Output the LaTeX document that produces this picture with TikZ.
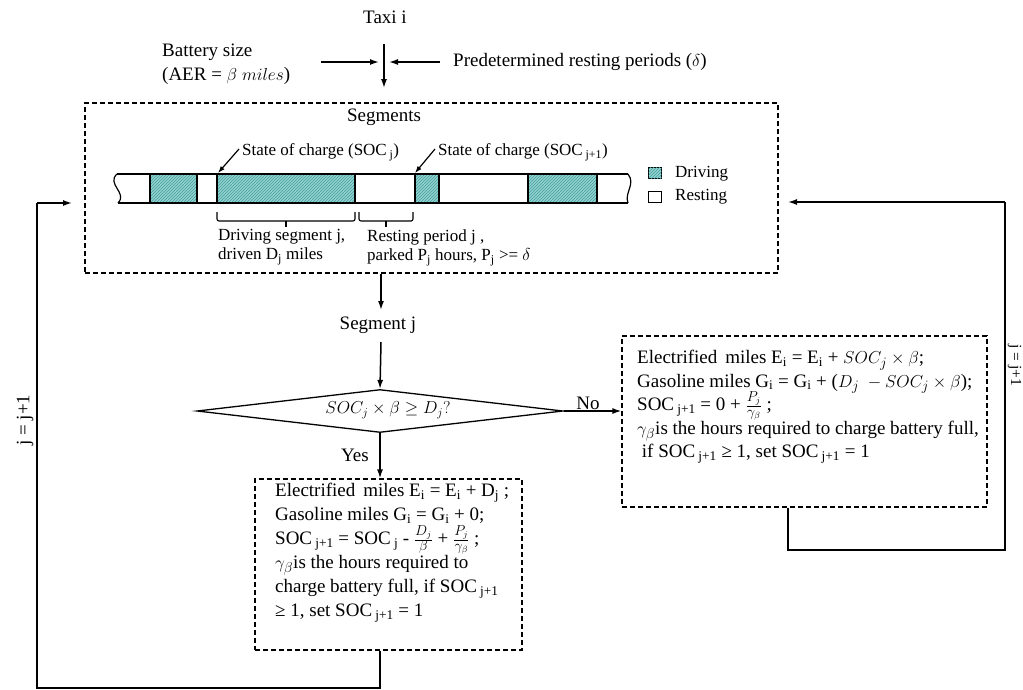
\documentclass[tikz,border=0pt]{standalone}
\usepackage{fontspec}
\setmainfont{Liberation Serif}
\usetikzlibrary{arrows.meta,shapes.geometric,patterns}
\definecolor{drvfill}{RGB}{145,210,206}
\definecolor{drvline}{RGB}{70,160,158}
\newcommand{\sbs}[1]{\textsubscript{#1}}
\begin{document}
\begin{tikzpicture}[x=1pt,y=-1pt,
  txt/.style={font=\fontsize{19}{24}\selectfont, inner sep=0pt},
  txtn/.style={font=\fontsize{19}{23.5}\selectfont, inner sep=0pt},
  small/.style={font=\fontsize{17}{19.5}\selectfont, inner sep=0pt},
  tiny/.style={font=\fontsize{15.5}{18}\selectfont, inner sep=0pt},
  dbox/.style={draw, dash pattern=on 5pt off 3pt, line width=1.2pt, inner sep=0pt},
  arr/.style={-{Latex[length=9pt,width=6pt]}, line width=1.5pt},
  loopline/.style={line width=2pt},
  barline/.style={line width=1.2pt},
  thickbar/.style={line width=2.4pt},
  drv/.style={fill=drvfill, postaction={pattern=north east lines, pattern color=drvline}},
]
\useasboundingbox (0,0) rectangle (1023,689);

% ---------- top inputs ----------
\node[txt] (taxi) at (385,17) {Taxi i};
\node[txt, anchor=west, align=left] (battery) at (162,64) {Battery size\\(AER = $\beta\ miles$)};
\node[txt, anchor=west] (pred) at (453,62) {Predetermined resting periods ($\delta$)};
\coordinate (vtop) at (384,44);
\coordinate (vbot) at (384,88);
\coordinate (lstart) at (321,62);
\coordinate (lend) at (379,62);
\coordinate (rend) at (389,62);
\draw[arr] (vtop) -- (vbot);
\draw[arr] (lstart) -- (lend);
\draw[arr] ([xshift=-13pt]pred.west) -- (rend);

% ---------- segments box ----------
\node[dbox, minimum width=693pt, minimum height=170pt] (segbox) at (431.5,188) {};
\node[txt] (segtitle) at (384,117) {Segments};

% bar
\fill[drv] (150,174) rectangle (197,203);
\fill[drv] (217,174) rectangle (355,203);
\fill[drv] (415,174) rectangle (439,203);
\fill[drv] (528,174) rectangle (597,203);
\draw[barline] (117,174) -- (628,174);
\draw[barline] (118,203) -- (628,203);
\draw[barline] (117,174) .. controls (106,184) and (128,193) .. (118,203);
\draw[barline] (628,174) .. controls (636,184) and (624,193) .. (628,203);
\foreach \x in {150,197,217,415,528} \draw[barline] (\x,174) -- (\x,203);
\foreach \x in {355,439,597} \draw[thickbar] (\x,174) -- (\x,203);

% SOC labels
\node[small, anchor=west] (socj) at (242,152) {State of charge (SOC\,\sbs{j})};
\node[small, anchor=west] (socj1) at (438,152) {State of charge (SOC\,\sbs{j+1})};
\coordinate (socjtip) at (218,173);
\coordinate (socj1tip) at (415,173);
\draw[-{Latex[length=7pt,width=5pt]}, line width=1.2pt] ([xshift=-3pt,yshift=3pt]socj.west) -- (socjtip);
\draw[-{Latex[length=7pt,width=5pt]}, line width=1.2pt] ([xshift=-3pt,yshift=3pt]socj1.west) -- (socj1tip);

% braces
\draw[line width=1.1pt, rounded corners=2pt] (217,212) |- (355,221) -- (355,212);
\draw[line width=1.1pt] (286,221) -- (286,227);
\draw[line width=1.1pt, rounded corners=2pt] (359,212) |- (413,221) -- (413,212);
\draw[line width=1.1pt] (386,221) -- (386,227);
\node[small, anchor=north west, align=left] (drvlab) at (218,229) {Driving segment j,\\driven D\sbs{j} miles};
\node[small, anchor=north west, align=left] (reslab) at (367,229) {Resting period j ,\\parked P\sbs{j} hours, P\sbs{j} >= $\delta$};

% legend
\node[draw, barline, fill=drvfill, postaction={pattern=north east lines, pattern color=drvline}, minimum width=13pt, minimum height=11pt, inner sep=0pt] (legd) at (655,173) {};
\node[draw, barline, minimum width=13pt, minimum height=11pt, inner sep=0pt] (legr) at (655,197) {};
\node[small, anchor=west] (legdt) at (675,174) {Driving};
\node[small, anchor=west] (legrt) at (675,197) {Resting};

% ---------- flow ----------
\node[txt] (segj) at (378,325) {Segment j};
\coordinate (segjin) at (381,310);
\draw[arr] (segbox.south -| segjin) -- (segjin);
\node[draw, line width=1.3pt, diamond, minimum width=366pt, minimum height=43pt, inner sep=0pt] (dia) at (380,411) {};
\node[small] (diatext) at (388,410) {$SOC_j \times \beta \geq D_j?$};
\coordinate (segjout) at (381,342);
\draw[arr] (segjout) -- (dia.north);

% yes box
\node[dbox, minimum width=267pt, minimum height=171pt] (yesbox) at (388.5,564.5) {};
\node[txt, anchor=north west, align=left] (yestext) at (275,483) {Electrified\, miles E\sbs{i} = E\sbs{i} + D\sbs{j} ;\\
Gasoline miles G\sbs{i} = G\sbs{i} + 0;\\
SOC\,\sbs{j+1} = SOC\,\sbs{j} - \smash{$\frac{D_j}{\beta}$} + \smash{$\frac{P_j}{\gamma_\beta}$} ;\\
$\gamma_\beta$is the hours required to\\
charge battery full, if SOC\,\sbs{j+1}\\
≥ 1, set SOC\,\sbs{j+1} = 1};
\draw[arr] (dia.south) -- (dia.south |- yesbox.north);
\node[txt] (yes) at (355,455) {Yes};

% no box
\node[dbox, minimum width=365pt, minimum height=171pt] (nobox) at (804.5,421.5) {};
\node[txtn, anchor=north west, align=left] (notext) at (637,350) {Electrified\, miles E\sbs{i} = E\sbs{i} + $SOC_j \times \beta$;\\
Gasoline miles G\sbs{i} = G\sbs{i} + ($D_j\ - SOC_j \times \beta$);\\
SOC\,\sbs{j+1} = 0 + \smash{$\frac{P_j}{\gamma_\beta}$} ;\\
$\gamma_\beta$is the hours required to charge battery full,\\
\ if SOC\,\sbs{j+1} ≥ 1, set SOC\,\sbs{j+1} = 1};
\draw[arr] (dia.east) -- (dia.east -| nobox.west);
\node[txt] (no) at (588,403) {No};

% ---------- loops ----------
\coordinate (lb) at (380,687.5);
\coordinate (lbl) at (37,687.5);
\coordinate (ltop) at (37,203);
\coordinate (ltip) at (72,203);
\draw[loopline] (yesbox.south -| lb) -- (lb) -- (lbl) -- (ltop);
\draw[arr] (ltop) -- (ltip);
\node[txt, rotate=90] (jl) at (25,420) {j = j+1};

\coordinate (rb) at (788,550);
\coordinate (rbr) at (1005,550);
\coordinate (rtop) at (1005,202);
\coordinate (rtip) at (788,202);
\draw[loopline] (nobox.south -| rb) -- (rb) -- (rbr) -- (rtop);
\draw[arr] (rtop) -- (rtip);
\node[tiny, rotate=-90, anchor=south] (jr) at (1007.5,365) {j = j+1};
\end{tikzpicture}
\end{document}
